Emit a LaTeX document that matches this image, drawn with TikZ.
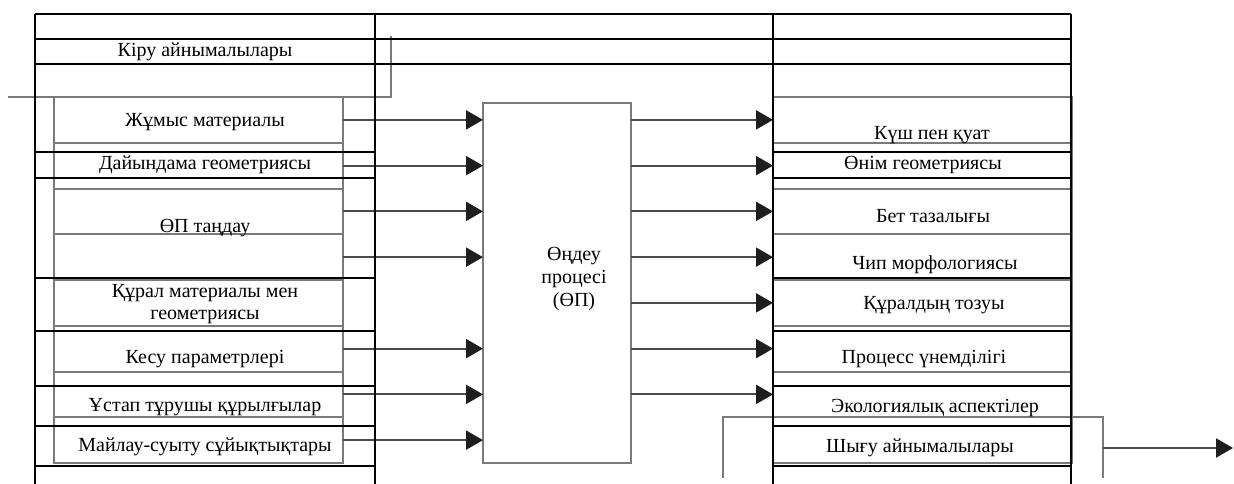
\documentclass[tikz,border=0pt]{standalone}
\usepackage{fontspec}
\setmainfont{Liberation Serif}
\usetikzlibrary{arrows.meta}
\definecolor{gline}{HTML}{7A7A7A}
\definecolor{aline}{HTML}{4A4A4A}
\definecolor{ahead}{HTML}{1E1E1E}
\begin{document}
\begin{tikzpicture}[x=1pt,y=-1pt,
  tbl/.style={line width=2.2pt,black,line cap=square},
  gbox/.style={draw=gline,line width=2pt,inner sep=0pt,outer sep=0pt,minimum height=45.75pt},
  gln/.style={draw=gline,line width=2pt},
  arr/.style={draw=aline,line width=2.2pt,-{Triangle[length=17pt,width=19pt,color=ahead]}},
  lbl/.style={font=\fontsize{20}{22}\selectfont,inner sep=0pt,align=center}]
\useasboundingbox (0,0) rectangle (1234,483);
\fill[white] (0,0) rectangle (1234,483);

% gray stacks of boxes
\foreach \i in {1,...,8}{
  \node[gbox,minimum width=289pt] (in\i) at (198.5,{97+45.75*(\i-0.5)}) {};
  \node[gbox,minimum width=299pt] (out\i) at (922.5,{97+45.75*(\i-0.5)}) {};
}
% process box
\node[gbox,minimum width=148pt,minimum height=360pt] (P) at (557,283) {};
\node[lbl,font=\fontsize{20}{23.5}\selectfont] (Ptxt) at (574,279) {Өңдеу\\процесі\\(ӨП)};

% arrows
\foreach \i in {1,2,3,4,6,7,8} \draw[arr] (in\i.east) -- (in\i.east -| P.west);
\foreach \i in {1,...,7} \draw[arr] (P.east |- out\i.west) -- (out\i.west);

% brackets
\coordinate (kL) at (8,97);
\coordinate (kR) at (391,97);
\coordinate (kT) at (391,36);
\draw[gln] (kL) -- (kR) -- (kT);
\coordinate (oL) at (723,478);
\coordinate (oLT) at (723,417);
\coordinate (oRT) at (1103,417);
\coordinate (oR) at (1103,478);
\coordinate (oA) at (1103,448);
\coordinate (oE) at (1233,448);
\draw[gln] (oL) -- (oLT) -- (oRT) -- (oR);
\draw[arr] (oA) -- (oE);

% table grid
\foreach \x in {35,375,773,1071} \draw[tbl] (\x,14) -- (\x,484);
\foreach \y in {14,39,64} \draw[tbl] (35,\y) -- (1071,\y);
\foreach \y in {152,178,278,331,386,426,466}{
  \draw[tbl] (35,\y) -- (375,\y);
  \draw[tbl] (773,\y) -- (1071,\y);
}

% input labels
\node[lbl] (l0) at (205,52) {Кіру айнымалылары};
\node[lbl] (l1) at (205,122) {Жұмыс материалы};
\node[lbl] (l2) at (205,165) {Дайындама геометриясы};
\node[lbl] (l3) at (205,228) {ӨП таңдау};
\node[lbl] (l4) at (205,304) {Құрал материалы мен\\геометриясы};
\node[lbl] (l5) at (205,359) {Кесу параметрлері};
\node[lbl] (l6) at (205,407) {Ұстап тұрушы құрылғылар};
\node[lbl] (l7) at (205,447) {Майлау-суыту сұйықтықтары};
% output labels
\node[lbl] (r1) at (932,135) {Күш пен қуат};
\node[lbl] (r2) at (923,165) {Өнім геометриясы};
\node[lbl] (r3) at (933,216) {Бет тазалығы};
\node[lbl] (r4) at (935,265) {Чип морфологиясы};
\node[lbl] (r5) at (934,305) {Құралдың тозуы};
\node[lbl] (r6) at (924,359) {Процесс үнемділігі};
\node[lbl] (r7) at (935,408) {Экологиялық аспектілер};
\node[lbl] (r8) at (920,448) {Шығу айнымалылары};
\end{tikzpicture}
\end{document}
